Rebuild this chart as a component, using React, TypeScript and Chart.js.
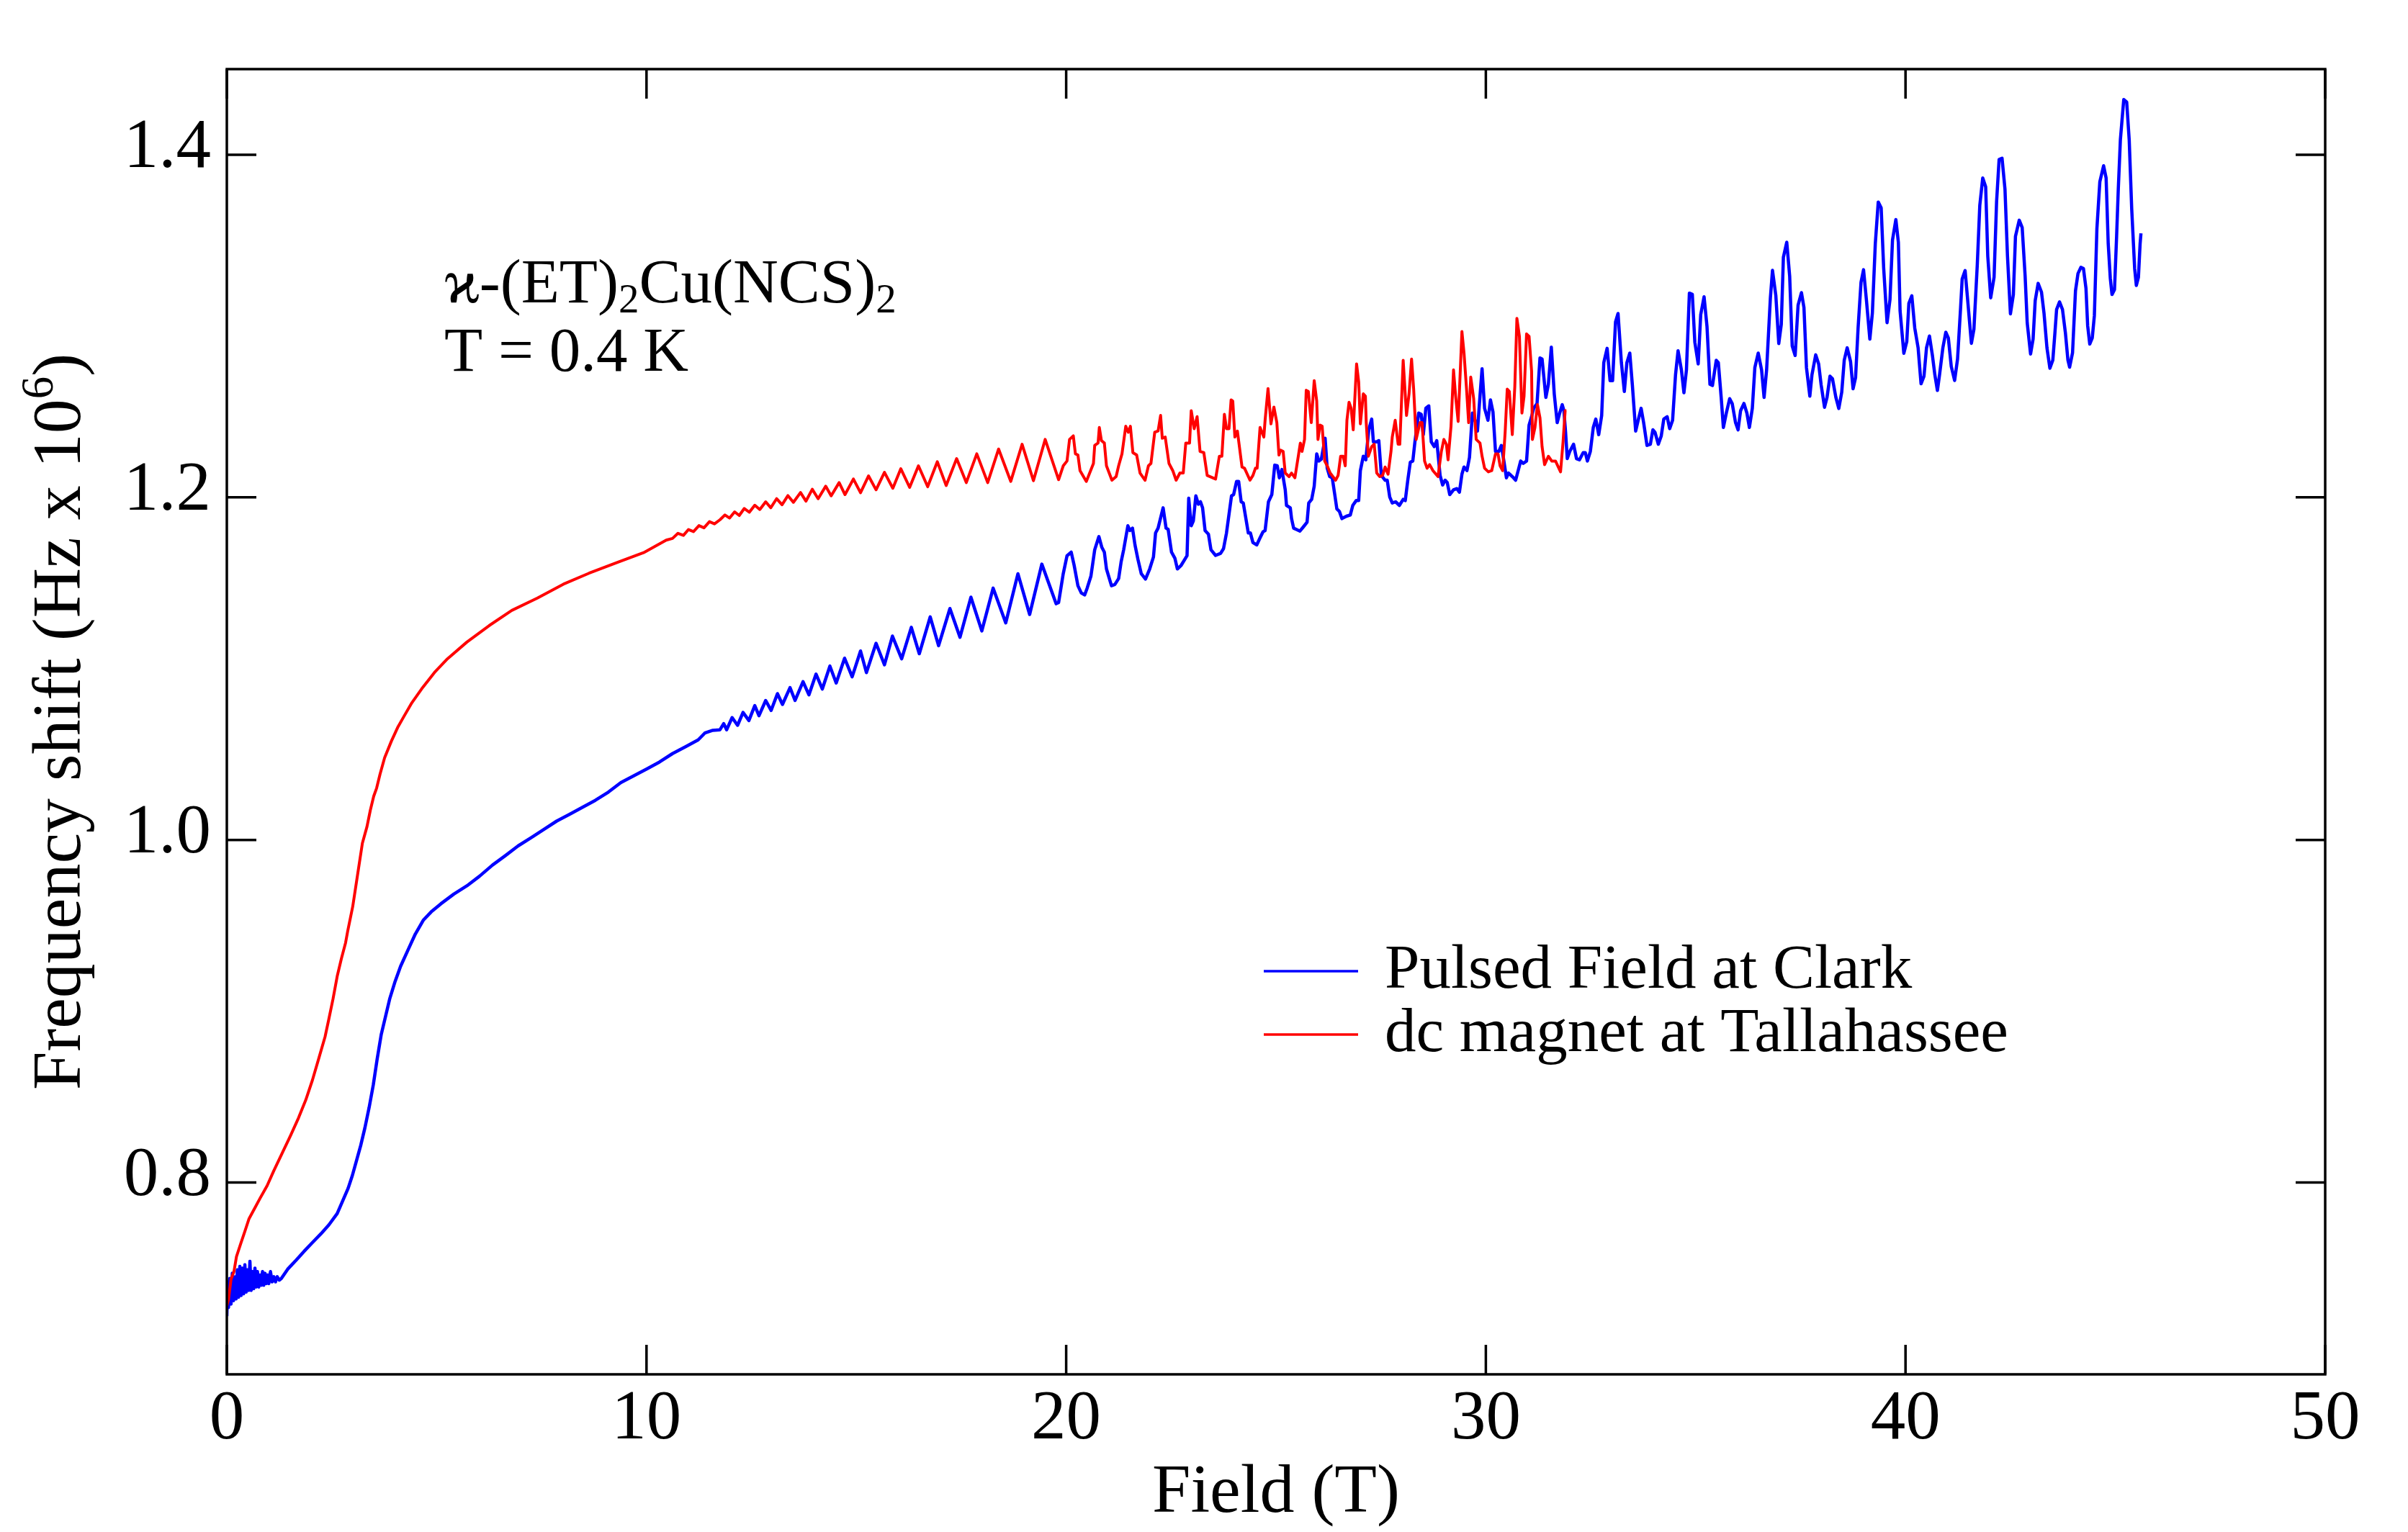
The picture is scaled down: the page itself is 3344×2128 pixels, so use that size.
import React, { useEffect, useRef } from "react";
import { Chart, registerables } from "chart.js";

Chart.register(...registerables);

type Pt = [number, number];

// ---------- tick values ----------
const xTicks: number[] = [0, 10, 20, 30, 40, 50];
const yTicks: number[] = [0.8, 1.0, 1.2, 1.4];
const xRange: number[] = [0, 50];
const yRange: number[] = [0.688, 1.45];

// ---------- text ----------
const xTitle = "Field (T)";
const yTitleMain = "Frequency shift (Hz x 10";
const yTitleSup = "6";
const yTitleEnd = ")";
const seriesNames: string[] = ["Pulsed Field at Clark", "dc magnet at Tallahassee"];
const seriesColors: string[] = ["#0000ff", "#ff0000"];

// ---------- dc magnet at Tallahassee (red) ----------
const dcLowField: Pt[] = [
  [0.0, 0.728], [0.04, 0.7317], [0.1, 0.7435], [0.17, 0.748], [0.23, 0.7568], [0.33, 0.7642], [0.43, 0.7715],
  [0.53, 0.7789], [0.66, 0.7848], [0.79, 0.7907], [0.96, 0.7981], [1.12, 0.8069], [1.32, 0.8172], [1.52, 0.8275],
  [1.71, 0.8378], [1.88, 0.8481], [2.04, 0.8598], [2.2, 0.8732], [2.34, 0.885], [2.43, 0.8953], [2.53, 0.9071],
  [2.63, 0.9204], [2.73, 0.9307], [2.83, 0.94], [2.88, 0.9467], [3.0, 0.9611], [3.11, 0.9788], [3.23, 0.9981],
  [3.34, 1.0078], [3.42, 1.0174], [3.5, 1.0255], [3.57, 1.0303], [3.65, 1.0383], [3.76, 1.048], [3.92, 1.0576],
  [4.07, 1.0656], [4.22, 1.0721], [4.41, 1.0801], [4.64, 1.0881], [4.95, 1.0978], [5.26, 1.1058], [5.72, 1.1155],
  [6.25, 1.1251], [6.79, 1.134], [7.4, 1.1412], [8.02, 1.1493], [8.63, 1.1557], [9.32, 1.1621], [9.93, 1.1677],
  [10.47, 1.175], [10.62, 1.176], [10.75, 1.179], [10.88, 1.1778], [11.0, 1.1812], [11.12, 1.18], [11.25, 1.1835],
  [11.37, 1.1822], [11.5, 1.1858], [11.62, 1.1845],
];
const dcOscA: Pt[] = [
  [11.75, 1.1869], [11.87, 1.1897], [11.98, 1.1879], [12.1, 1.1915], [12.21, 1.1894], [12.33, 1.1935], [12.45, 1.1913],
  [12.58, 1.1954], [12.7, 1.1929], [12.84, 1.1974], [12.96, 1.1939], [13.1, 1.1992], [13.23, 1.1957], [13.37, 1.201],
  [13.5, 1.1971], [13.67, 1.2028], [13.8, 1.1978], [13.95, 1.2047], [14.09, 1.1992], [14.27, 1.2065], [14.4, 1.2009],
  [14.59, 1.2086], [14.73, 1.2016], [14.93, 1.2107], [15.1, 1.2027], [15.29, 1.2125], [15.47, 1.2044], [15.67, 1.2146],
  [15.87, 1.2053], [16.06, 1.2167], [16.27, 1.2058], [16.48, 1.2184], [16.7, 1.2062], [16.93, 1.2208], [17.14, 1.2069],
  [17.39, 1.2226], [17.62, 1.2086], [17.87, 1.2254], [18.13, 1.2086], [18.39, 1.2282], [18.68, 1.2093], [18.95, 1.231],
  [19.22, 1.2097], [19.5, 1.2338], [19.82, 1.2103],
];
const dcOscB: Pt[] = [
  [19.93, 1.2184], [20.02, 1.2212], [20.08, 1.2338], [20.17, 1.2359], [20.22, 1.2254], [20.28, 1.2247], [20.33, 1.2156],
  [20.48, 1.2093], [20.56, 1.2142], [20.65, 1.2198], [20.68, 1.2303], [20.76, 1.2317], [20.79, 1.2408], [20.84, 1.2331],
  [20.91, 1.2317], [20.96, 1.2184], [21.09, 1.21], [21.19, 1.2121], [21.25, 1.2184], [21.33, 1.2254], [21.42, 1.2415],
  [21.48, 1.238], [21.53, 1.2415], [21.59, 1.2261], [21.68, 1.2247], [21.76, 1.2142], [21.88, 1.21], [21.96, 1.2184],
  [22.02, 1.2198], [22.11, 1.238], [22.19, 1.2387], [22.25, 1.2478], [22.29, 1.2345], [22.36, 1.2352], [22.45, 1.2198],
  [22.54, 1.2156], [22.62, 1.21], [22.71, 1.2142], [22.79, 1.2142], [22.85, 1.2317], [22.94, 1.2317], [22.98, 1.2506],
  [23.05, 1.2401], [23.12, 1.2471], [23.19, 1.2268], [23.28, 1.2261], [23.36, 1.2128], [23.56, 1.2107], [23.65, 1.224],
  [23.71, 1.224], [23.77, 1.2485], [23.82, 1.2401], [23.88, 1.2401], [23.93, 1.2569], [23.97, 1.2562], [24.02, 1.2352],
  [24.08, 1.2387], [24.19, 1.2177], [24.25, 1.217], [24.38, 1.21], [24.45, 1.2128], [24.51, 1.217], [24.55, 1.217],
  [24.62, 1.2408], [24.71, 1.2352], [24.74, 1.245], [24.81, 1.2635], [24.88, 1.2429], [24.95, 1.2527], [25.02, 1.2436],
  [25.07, 1.2247], [25.11, 1.2275], [25.17, 1.2268], [25.22, 1.2142], [25.31, 1.2121],
];
const dcOscC: Pt[] = [
  [25.37, 1.2142], [25.45, 1.2114], [25.54, 1.2254], [25.58, 1.2317], [25.62, 1.2268], [25.68, 1.2338], [25.72, 1.2625],
  [25.77, 1.2618], [25.84, 1.2436], [25.91, 1.2681], [25.97, 1.2562], [26.0, 1.2338], [26.05, 1.2422], [26.1, 1.2415],
  [26.16, 1.2212], [26.22, 1.2184], [26.29, 1.2142], [26.42, 1.21], [26.48, 1.2128], [26.54, 1.224], [26.6, 1.224],
  [26.65, 1.2184], [26.69, 1.245], [26.74, 1.2555], [26.79, 1.252], [26.84, 1.2394], [26.92, 1.2779], [26.97, 1.2674],
  [27.01, 1.2429], [27.08, 1.2604], [27.13, 1.259], [27.15, 1.2436], [27.2, 1.224], [27.28, 1.2296], [27.34, 1.231],
  [27.4, 1.2142], [27.47, 1.2121], [27.54, 1.2128], [27.6, 1.2177], [27.67, 1.2135], [27.74, 1.2268], [27.77, 1.2352],
  [27.84, 1.245], [27.91, 1.231], [27.95, 1.231], [28.03, 1.28], [28.11, 1.2478], [28.17, 1.2604], [28.23, 1.2807],
  [28.28, 1.2632], [28.34, 1.2338], [28.43, 1.2436], [28.48, 1.2436], [28.54, 1.2212], [28.6, 1.217], [28.66, 1.2191],
  [28.74, 1.2156], [28.86, 1.2121], [28.94, 1.2268], [29.0, 1.2338], [29.06, 1.231], [29.1, 1.2219], [29.17, 1.2415],
  [29.23, 1.2744], [29.28, 1.259], [29.34, 1.2443], [29.38, 1.2674], [29.43, 1.2968], [29.48, 1.2842], [29.54, 1.2632],
  [29.59, 1.2436], [29.64, 1.2702], [29.71, 1.2576], [29.77, 1.2338], [29.86, 1.2317], [29.91, 1.224], [29.97, 1.217],
  [30.06, 1.2149], [30.14, 1.2156], [30.23, 1.2254], [30.29, 1.2254], [30.34, 1.2184], [30.4, 1.2156], [30.46, 1.238],
  [30.51, 1.2632], [30.56, 1.2618], [30.63, 1.2366], [30.69, 1.2646], [30.74, 1.3045], [30.8, 1.294], [30.86, 1.2492],
  [30.91, 1.259], [30.97, 1.2954], [31.03, 1.294], [31.09, 1.2737], [31.11, 1.2338], [31.17, 1.2408], [31.23, 1.2541],
  [31.29, 1.2464], [31.34, 1.2296], [31.4, 1.2191], [31.49, 1.224], [31.57, 1.2212], [31.66, 1.2212], [31.74, 1.217],
  [31.78, 1.2149], [31.84, 1.2324], [31.89, 1.2506], [31.92, 1.2506],
];

// ---------- Pulsed Field at Clark (blue) ----------
const pulsedNoise: Pt[] = [
  [0.0, 0.722], [0.02, 0.742], [0.04, 0.727], [0.07, 0.744], [0.1, 0.729], [0.13, 0.747], [0.16, 0.731], [0.19, 0.745],
  [0.22, 0.732], [0.25, 0.749], [0.28, 0.733], [0.31, 0.751], [0.34, 0.734], [0.37, 0.75], [0.4, 0.735], [0.43, 0.752],
  [0.46, 0.736], [0.49, 0.749], [0.52, 0.737], [0.55, 0.754], [0.58, 0.737], [0.61, 0.748], [0.64, 0.738], [0.67, 0.75],
  [0.7, 0.739], [0.73, 0.748], [0.76, 0.739], [0.79, 0.746], [0.82, 0.74], [0.85, 0.748], [0.88, 0.74], [0.91, 0.747],
  [0.94, 0.741], [0.97, 0.746], [1.0, 0.741], [1.04, 0.748], [1.08, 0.742], [1.12, 0.745], [1.16, 0.742], [1.2, 0.745],
  [1.25, 0.743], [1.3, 0.744],
];
const pulsedRise: Pt[] = [
  [1.45, 0.7494], [1.65, 0.7546], [1.84, 0.7598], [2.01, 0.7642], [2.24, 0.77], [2.43, 0.7752], [2.63, 0.7819],
  [2.76, 0.7892], [2.89, 0.7966], [2.99, 0.804], [3.09, 0.8128], [3.19, 0.8216], [3.29, 0.8319], [3.39, 0.8437],
  [3.49, 0.857], [3.58, 0.8717], [3.68, 0.8865], [3.78, 0.8968], [3.88, 0.9071], [4.01, 0.9174], [4.14, 0.9262],
  [4.34, 0.937], [4.49, 0.945], [4.68, 0.9531], [4.87, 0.958], [5.1, 0.9627], [5.41, 0.9684], [5.72, 0.9732],
  [6.02, 0.9788], [6.33, 0.9853], [6.64, 0.9909], [6.94, 0.9965], [7.25, 1.0013], [7.56, 1.0062], [7.86, 1.011],
  [8.17, 1.015], [8.47, 1.019], [8.78, 1.0231], [9.09, 1.0279], [9.39, 1.0335], [9.7, 1.0375], [10.01, 1.0415],
  [10.31, 1.0455], [10.62, 1.0504], [10.93, 1.0544], [11.23, 1.0584], [11.39, 1.0624], [11.58, 1.064],
];
const pulsedOscA: Pt[] = [
  [11.75, 1.0643], [11.84, 1.0679], [11.91, 1.0643], [12.04, 1.0714], [12.17, 1.0669], [12.3, 1.0744], [12.44, 1.0697],
  [12.58, 1.0784], [12.68, 1.0725], [12.84, 1.0814], [12.97, 1.0756], [13.12, 1.0854], [13.24, 1.0791], [13.42, 1.0889],
  [13.54, 1.0814], [13.73, 1.0924], [13.87, 1.0847], [14.04, 1.0968], [14.19, 1.0881], [14.37, 1.1015], [14.52, 1.0916],
  [14.72, 1.1061], [14.9, 1.0952], [15.1, 1.1103], [15.24, 1.0977], [15.47, 1.1148], [15.67, 1.1022], [15.86, 1.119],
  [16.08, 1.1057], [16.31, 1.1241], [16.5, 1.1087], [16.76, 1.1302], [16.96, 1.1134], [17.23, 1.1351], [17.47, 1.1183],
  [17.73, 1.1417], [17.99, 1.122], [18.26, 1.147], [18.56, 1.1267], [18.85, 1.1554], [19.13, 1.1316], [19.42, 1.161],
  [19.76, 1.1379],
];
const pulsedOscB: Pt[] = [
  [19.82, 1.1386], [19.93, 1.1554], [20.02, 1.1659], [20.12, 1.168], [20.19, 1.1603], [20.28, 1.1484], [20.36, 1.1442],
  [20.44, 1.143], [20.5, 1.147], [20.59, 1.154], [20.68, 1.1694], [20.78, 1.1771], [20.85, 1.1708], [20.91, 1.168],
  [20.96, 1.1582], [21.08, 1.1484], [21.16, 1.1491], [21.25, 1.1526], [21.31, 1.1624], [21.37, 1.1694], [21.47, 1.1834],
  [21.52, 1.1806], [21.58, 1.182], [21.64, 1.1722], [21.71, 1.1638], [21.79, 1.1554], [21.89, 1.1523], [21.99, 1.1582],
  [22.08, 1.1652], [22.13, 1.1792], [22.19, 1.182], [22.31, 1.1939], [22.38, 1.182], [22.43, 1.1813], [22.51, 1.168],
  [22.59, 1.1645], [22.65, 1.1582], [22.74, 1.1603], [22.88, 1.1659], [22.92, 1.1995], [22.98, 1.1834], [23.03, 1.1862],
  [23.09, 1.2009], [23.15, 1.196], [23.2, 1.1974], [23.25, 1.1939], [23.31, 1.1806], [23.39, 1.1785], [23.45, 1.1694],
  [23.56, 1.1661], [23.68, 1.1673], [23.75, 1.1701], [23.82, 1.1792], [23.94, 1.2009], [23.99, 1.2016], [24.06, 1.2093],
  [24.11, 1.2093], [24.17, 1.1974], [24.22, 1.1967], [24.34, 1.1792], [24.39, 1.1792], [24.45, 1.1736], [24.54, 1.1722],
  [24.62, 1.1764], [24.69, 1.1799], [24.74, 1.1806], [24.82, 1.1974], [24.9, 1.2016], [24.97, 1.2188], [25.03, 1.2184],
  [25.08, 1.2114], [25.14, 1.2163], [25.22, 1.2044], [25.25, 1.1953], [25.34, 1.1939],
];
const pulsedOscC: Pt[] = [
  [25.37, 1.1876], [25.42, 1.182], [25.48, 1.1813], [25.57, 1.1803], [25.65, 1.1827], [25.74, 1.1855], [25.78, 1.1967],
  [25.85, 1.1988], [25.91, 1.2065], [25.97, 1.2254], [26.02, 1.2212], [26.08, 1.2223], [26.17, 1.2345], [26.22, 1.217],
  [26.28, 1.2121], [26.34, 1.2114], [26.4, 1.2016], [26.45, 1.1932], [26.51, 1.1918], [26.57, 1.1876], [26.68, 1.189],
  [26.77, 1.1897], [26.83, 1.1953], [26.91, 1.1981], [26.97, 1.1981], [27.01, 1.2156], [27.08, 1.224], [27.14, 1.2219],
  [27.21, 1.2394], [27.28, 1.2457], [27.32, 1.2324], [27.4, 1.2324], [27.45, 1.2331], [27.51, 1.2128], [27.6, 1.21],
  [27.65, 1.21], [27.71, 1.2002], [27.77, 1.1967], [27.85, 1.1974], [27.94, 1.1953], [28.03, 1.1988], [28.08, 1.1981],
  [28.14, 1.21], [28.2, 1.2205], [28.26, 1.2212], [28.31, 1.2324], [28.4, 1.2492], [28.46, 1.2485], [28.51, 1.2366],
  [28.57, 1.252], [28.64, 1.2534], [28.7, 1.2324], [28.77, 1.2296], [28.83, 1.2331], [28.91, 1.2128], [28.97, 1.2072],
  [29.03, 1.21], [29.08, 1.2086], [29.14, 1.2016], [29.23, 1.2044], [29.31, 1.2051], [29.37, 1.203], [29.43, 1.2135],
  [29.48, 1.2177], [29.55, 1.2156], [29.61, 1.2233], [29.68, 1.2492], [29.76, 1.2436], [29.8, 1.2387], [29.86, 1.259],
  [29.91, 1.2751], [29.97, 1.252], [30.05, 1.245], [30.11, 1.2569], [30.17, 1.2499], [30.23, 1.2268], [30.31, 1.2268],
  [30.37, 1.2303], [30.43, 1.2212], [30.49, 1.2114], [30.54, 1.2142], [30.66, 1.2114], [30.71, 1.21], [30.77, 1.2156],
  [30.83, 1.2212], [30.89, 1.2198], [30.97, 1.2212], [31.03, 1.2422], [31.09, 1.2471], [31.14, 1.252], [31.22, 1.2548],
  [31.29, 1.2814], [31.34, 1.2807], [31.43, 1.2583], [31.49, 1.266], [31.56, 1.2877],
];
const pulsedOscD: Pt[] = [
  [31.63, 1.2604], [31.7, 1.2436], [31.76, 1.2492], [31.82, 1.2541], [31.86, 1.2506], [31.9, 1.238], [31.94, 1.2226],
  [32.0, 1.2268], [32.09, 1.231], [32.16, 1.2226], [32.23, 1.2219], [32.32, 1.2261], [32.37, 1.2261], [32.42, 1.2212],
  [32.49, 1.2268], [32.56, 1.2408], [32.62, 1.2457], [32.69, 1.2366], [32.76, 1.2478], [32.81, 1.2786], [32.89, 1.287],
  [32.96, 1.2681], [33.02, 1.2681], [33.09, 1.3024], [33.15, 1.3073], [33.23, 1.2786], [33.3, 1.2618], [33.36, 1.2786],
  [33.43, 1.2842], [33.49, 1.266], [33.57, 1.2387], [33.63, 1.245], [33.7, 1.252], [33.76, 1.2436], [33.84, 1.2303],
  [33.92, 1.231], [33.98, 1.2394], [34.03, 1.238], [34.11, 1.231], [34.18, 1.2359], [34.24, 1.2457], [34.32, 1.2471],
  [34.38, 1.2401], [34.45, 1.245], [34.52, 1.2716], [34.58, 1.2856], [34.66, 1.2744], [34.72, 1.2611], [34.78, 1.2744],
  [34.85, 1.3192], [34.92, 1.3185], [34.98, 1.2905], [35.06, 1.2779], [35.12, 1.3066], [35.2, 1.3171], [35.27, 1.2996],
  [35.34, 1.266], [35.4, 1.2653], [35.49, 1.28], [35.54, 1.2786], [35.61, 1.2576], [35.66, 1.2408], [35.73, 1.2492],
  [35.81, 1.2576], [35.87, 1.2548], [35.95, 1.2436], [36.01, 1.2394], [36.07, 1.2506], [36.15, 1.2548], [36.22, 1.2492],
  [36.28, 1.2408], [36.35, 1.252], [36.41, 1.2758], [36.49, 1.2842], [36.57, 1.2744], [36.63, 1.2583], [36.69, 1.2744],
  [36.78, 1.3164], [36.83, 1.3325], [36.91, 1.3178], [36.98, 1.2898], [37.04, 1.301], [37.09, 1.3402], [37.17, 1.3489],
  [37.24, 1.329], [37.3, 1.2884], [37.37, 1.2828], [37.44, 1.3122], [37.52, 1.3195], [37.58, 1.3108],
];
const pulsedOscE: Pt[] = [
  [37.64, 1.2757], [37.72, 1.2591], [37.77, 1.2714], [37.86, 1.2832], [37.93, 1.2779], [37.99, 1.2656], [38.07, 1.2526],
  [38.13, 1.2584], [38.2, 1.2707], [38.26, 1.2692], [38.34, 1.2584], [38.41, 1.2519], [38.48, 1.2613], [38.54, 1.2801],
  [38.61, 1.2873], [38.69, 1.2793], [38.75, 1.2634], [38.81, 1.2699], [38.87, 1.2989], [38.94, 1.3256], [39.0, 1.3329],
  [39.07, 1.3148], [39.15, 1.2924], [39.21, 1.3075], [39.28, 1.348], [39.35, 1.3724], [39.42, 1.369], [39.48, 1.3336],
  [39.56, 1.302], [39.63, 1.3155], [39.69, 1.3502], [39.77, 1.3622], [39.83, 1.3488], [39.87, 1.309], [39.96, 1.2841],
  [40.03, 1.2909], [40.08, 1.3133], [40.15, 1.3177], [40.22, 1.2989], [40.3, 1.2873], [40.37, 1.2663], [40.44, 1.2707],
  [40.5, 1.2873], [40.57, 1.2942], [40.64, 1.283], [40.7, 1.2714], [40.76, 1.2624], [40.81, 1.2714], [40.89, 1.2873],
  [40.96, 1.2964], [41.02, 1.2931], [41.09, 1.2764], [41.17, 1.2682], [41.24, 1.2808], [41.31, 1.3097], [41.35, 1.3275],
  [41.42, 1.3324], [41.49, 1.3126], [41.57, 1.2899], [41.63, 1.2981], [41.71, 1.3357], [41.77, 1.3705], [41.84, 1.3864],
  [41.91, 1.3813], [41.96, 1.3408], [42.03, 1.3165], [42.11, 1.3285], [42.17, 1.3726], [42.23, 1.3972], [42.3, 1.398],
  [42.37, 1.3799], [42.43, 1.3408], [42.5, 1.3071], [42.57, 1.3184], [42.62, 1.3524], [42.71, 1.3618], [42.78, 1.3575],
  [42.85, 1.3292], [42.9, 1.3018], [42.98, 1.2837], [43.04, 1.2924], [43.09, 1.3148], [43.16, 1.3249], [43.24, 1.3198],
  [43.3, 1.3075], [43.37, 1.2873], [43.44, 1.2754], [43.51, 1.2801], [43.56, 1.296], [43.6, 1.3097], [43.67, 1.3141],
  [43.74, 1.3097], [43.81, 1.296], [43.87, 1.2801], [43.91, 1.276], [43.98, 1.2844], [44.05, 1.3206], [44.11, 1.3307],
  [44.18, 1.3343], [44.24, 1.3336], [44.3, 1.322], [44.34, 1.3003], [44.39, 1.2895], [44.45, 1.2931], [44.5, 1.3061],
  [44.56, 1.3567], [44.63, 1.3842], [44.72, 1.3936], [44.78, 1.3864], [44.83, 1.3481], [44.88, 1.3278], [44.92, 1.3184],
  [44.98, 1.3213], [45.03, 1.3524], [45.07, 1.3799], [45.12, 1.4088], [45.2, 1.4322], [45.27, 1.4308], [45.33, 1.4088],
  [45.39, 1.3683], [45.46, 1.3336], [45.5, 1.3237], [45.55, 1.3285], [45.59, 1.3481], [45.61, 1.3541],
];

const pulsedSeries: Pt[] = [
  ...pulsedNoise, ...pulsedRise, ...pulsedOscA, ...pulsedOscB, ...pulsedOscC, ...pulsedOscD, ...pulsedOscE,
];
const dcSeries: Pt[] = [...dcLowField, ...dcOscA, ...dcOscB, ...dcOscC];

const SERIF = '"Liberation Serif", "Times New Roman", "DejaVu Serif", serif';

type Seg = { t: string; sub?: boolean; sup?: boolean };

function drawRich(ctx: CanvasRenderingContext2D, segs: Seg[], x: number, y: number, size: number, align: "left" | "center") {
  const small = Math.round(size * 0.66);
  const widths = segs.map((s) => {
    ctx.font = `${s.sub || s.sup ? small : size}px ${SERIF}`;
    return ctx.measureText(s.t).width;
  });
  const total = widths.reduce((a, b) => a + b, 0);
  let cx = align === "center" ? x - total / 2 : x;
  segs.forEach((s, i) => {
    ctx.font = `${s.sub || s.sup ? small : size}px ${SERIF}`;
    const dy = s.sub ? size * 0.16 : s.sup ? -size * 0.4 : 0;
    ctx.fillText(s.t, cx, y + dy);
    cx += widths[i];
  });
}

const decorPlugin = {
  id: "decor",
  afterDraw(chart: any) {
    const { ctx, chartArea: a, scales } = chart;
    ctx.save();
    ctx.strokeStyle = "#000";
    ctx.lineWidth = 3.5;
    ctx.strokeRect(a.left, a.top, a.right - a.left, a.bottom - a.top);
    const tl = 41;
    ctx.beginPath();
    xTicks.forEach((v) => {
      const p = scales.x.getPixelForValue(v);
      ctx.moveTo(p, a.bottom);
      ctx.lineTo(p, a.bottom - tl);
      ctx.moveTo(p, a.top);
      ctx.lineTo(p, a.top + tl);
    });
    yTicks.forEach((v) => {
      const p = scales.y.getPixelForValue(v);
      ctx.moveTo(a.left, p);
      ctx.lineTo(a.left + tl, p);
      ctx.moveTo(a.right, p);
      ctx.lineTo(a.right - tl, p);
    });
    ctx.stroke();

    ctx.fillStyle = "#000";
    ctx.textBaseline = "alphabetic";
    ctx.textAlign = "left";
    // x title
    drawRich(ctx, [{ t: xTitle }], (a.left + a.right) / 2, a.bottom + 191, 96, "center");
    // y title
    ctx.save();
    ctx.translate(a.left - 204, (a.top + a.bottom) / 2);
    ctx.rotate(-Math.PI / 2);
    drawRich(ctx, [{ t: yTitleMain }, { t: yTitleSup, sup: true }, { t: yTitleEnd }], 0, 0, 96, "center");
    ctx.restore();

    // annotation
    drawRich(
      ctx,
      [{ t: "ϰ-(ET)" }, { t: "2", sub: true }, { t: "Cu(NCS)" }, { t: "2", sub: true }],
      a.left + 302,
      a.top + 324,
      87,
      "left"
    );
    drawRich(ctx, [{ t: "T = 0.4 K" }], a.left + 302, a.top + 419, 87, "left");

    // legend
    const lx0 = a.left + 1440;
    const lx1 = a.left + 1571;
    const rows = [a.top + 1253, a.top + 1341];
    seriesNames.forEach((name, i) => {
      ctx.strokeStyle = seriesColors[i];
      ctx.lineWidth = 3.5;
      ctx.beginPath();
      ctx.moveTo(lx0, rows[i]);
      ctx.lineTo(lx1, rows[i]);
      ctx.stroke();
      ctx.fillStyle = "#000";
      drawRich(ctx, [{ t: name }], a.left + 1608, rows[i] + 23, 87, "left");
    });
    ctx.restore();
  },
};

export default function App() {
  const ref = useRef<HTMLCanvasElement | null>(null);

  useEffect(() => {
    if (!ref.current) return;
    const tickFont = { family: SERIF, size: 97 };
    const chart = new Chart(ref.current, {
      type: "scatter",
      data: {
        datasets: [
          {
            label: seriesNames[1],
            data: dcSeries.map(([x, y]) => ({ x, y })),
            borderColor: seriesColors[1],
            backgroundColor: seriesColors[1],
            borderWidth: 4,
            showLine: true,
            pointRadius: 0,
            tension: 0,
            borderJoinStyle: "round",
            order: 0,
          },
          {
            label: seriesNames[0],
            data: pulsedSeries.map(([x, y]) => ({ x, y })),
            borderColor: seriesColors[0],
            backgroundColor: seriesColors[0],
            borderWidth: 4.5,
            showLine: true,
            pointRadius: 0,
            tension: 0,
            borderJoinStyle: "round",
            order: 1,
          },
        ],
      },
      options: {
        responsive: false,
        devicePixelRatio: 1,
        animation: false,
        events: [],
        layout: { padding: { top: 96, right: 115, left: 0, bottom: 0 } },
        plugins: { legend: { display: false }, tooltip: { enabled: false }, title: { display: false } },
        scales: {
          x: {
            type: "linear",
            min: xRange[0],
            max: xRange[1],
            afterBuildTicks: (s: any) => {
              s.ticks = xTicks.map((v) => ({ value: v }));
            },
            afterFit: (s: any) => {
              s.height = 219;
            },
            grid: { display: false, drawTicks: false },
            border: { display: false },
            ticks: {
              font: tickFont,
              color: "#000",
              padding: 5,
              maxRotation: 0,
              autoSkip: false,
              callback: (v: any) => String(v),
            },
          },
          y: {
            type: "linear",
            min: yRange[0],
            max: yRange[1],
            afterBuildTicks: (s: any) => {
              s.ticks = yTicks.map((v) => ({ value: v }));
            },
            afterFit: (s: any) => {
              s.width = 315;
            },
            grid: { display: false, drawTicks: false },
            border: { display: false },
            ticks: {
              font: tickFont,
              color: "#000",
              padding: 22,
              labelOffset: -8,
              autoSkip: false,
              callback: (v: any) => Number(v).toFixed(1),
            },
          },
        },
      } as any,
      plugins: [decorPlugin],
    });
    return () => chart.destroy();
  }, []);

  return (
    <div style={{ position: "absolute", left: 0, top: 0, width: 3344, height: 2128, background: "#fff" }}>
      <canvas ref={ref} width={3344} height={2128} style={{ display: "block", width: 3344, height: 2128 }} />
    </div>
  );
}
